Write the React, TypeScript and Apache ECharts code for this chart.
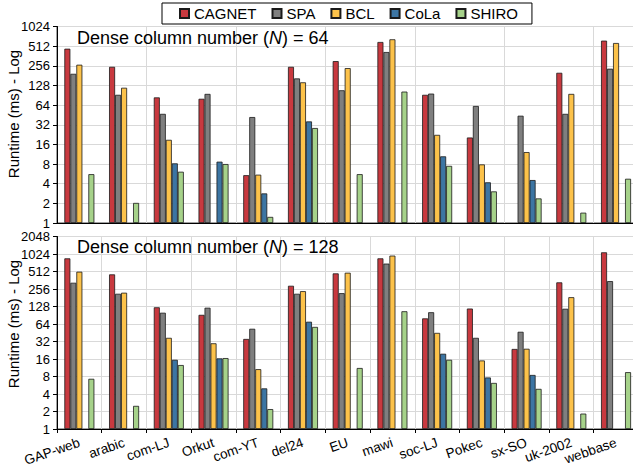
import React, { useEffect, useRef } from "react";
import * as echarts from "echarts";

const categories = ["GAP-web", "arabic", "com-LJ", "Orkut", "com-YT", "del24", "EU", "mawi", "soc-LJ", "Pokec", "sx-SO", "uk-2002", "webbase"];
const seriesNames = ["CAGNET", "SPA", "BCL", "CoLa", "SHIRO"];
const colors = ["#C8393F", "#7F7F7F", "#FCC24A", "#3C75A3", "#A6D28A"];

// N = 64
const cagnet64 = [468, 247, 84, 80, 5.4, 247, 302, 593, 92, 20.4, null, 200, 622];
const spa64 = [193, 92, 47, 95, 42, 164, 108, 416, 96, 62, 44, 47, 231];
const bcl64 = [266, 118, 18.8, null, 5.5, 143, 236, 652, 22.4, 7.9, 12.2, 95, 572];
const cola64 = [null, null, 8.2, 8.7, 2.84, 36, null, null, 10.5, 4.2, 4.55, null, null];
const shiro64 = [5.6, 2.03, 6.1, 8.0, 1.24, 28.5, 5.6, 103, 7.5, 3.05, 2.38, 1.44, 4.76];

// N = 128
const cagnet128 = [862, 457, 124, 92, 35.4, 291, 475, 862, 80, 118, 23.8, 333, 1095];
const spa128 = [328, 212, 100, 122, 53, 212, 217, 700, 102, 37, 47, 117, 350];
const bcl128 = [508, 221, 37, 29.8, 10.7, 235, 488, 961, 45, 15.1, 24, 185, null];
const cola128 = [null, null, 15.5, 16.4, 5.0, 70, null, null, 19.7, 7.7, 8.5, null, null];
const shiro128 = [7.3, 2.5, 12.6, 16.6, 2.2, 57, 11.2, 106, 15.5, 6.2, 4.9, 1.84, 9.5];

const yMaxTop = 1024;
const yMaxBottom = 2048;
const yAxisTitle = "Runtime (ms) - Log";

const FONT = "'Liberation Sans', Arial, sans-serif";

export default function App() {
  const ref = useRef<HTMLDivElement>(null);
  useEffect(() => {
    if (!ref.current) return;
    const chart = echarts.init(ref.current, null, { renderer: "svg" });
    const top = [cagnet64, spa64, bcl64, cola64, shiro64];
    const bottom = [cagnet128, spa128, bcl128, cola128, shiro128];
    const mkSeries = (data: (number | null)[][], idx: number) =>
      data.map((d, i) => ({
        name: seriesNames[i],
        type: "bar",
        xAxisIndex: idx,
        yAxisIndex: idx,
        data: d.map((v) => (v == null ? "-" : v)),
        barWidth: 6,
        barGap: "0%",
        itemStyle: { color: colors[i], borderColor: "#1a1a1a", borderWidth: 0.8 },
      }));
    const xAxisBase = {
      type: "category",
      data: categories,
      axisLine: { lineStyle: { color: "#000", width: 1 } },
      splitLine: { show: true, lineStyle: { color: "#d9d9d9", width: 1 } },
    };
    const yAxisBase = {
      type: "log",
      logBase: 2,
      min: 1,
      interval: 1,
      axisLine: { show: true, lineStyle: { color: "#000", width: 1 } },
      axisTick: { show: true, length: 4, lineStyle: { color: "#000" } },
      axisLabel: { fontFamily: FONT, fontSize: 13, color: "#000", margin: 7, formatter: (v: number) => String(Math.round(v)) },
      splitLine: { show: true, lineStyle: { color: "#d9d9d9", width: 1 } },
    };
    const nameText = (cy: number) => ({
      type: "text",
      x: 13.5,
      y: cy,
      rotation: Math.PI / 2,
      style: { text: yAxisTitle, fontFamily: FONT, fontSize: 15, fill: "#000", align: "center", verticalAlign: "middle" },
      z: 5,
    });
    chart.setOption({
      animation: false,
      backgroundColor: "#fff",
      textStyle: { fontFamily: FONT },
      title: [
        {
          text: "Dense column number ({i|N}) = 64",
          left: 77,
          top: 29,
          padding: 0,
          textStyle: { fontFamily: FONT, fontSize: 18, fontWeight: "normal", color: "#000", rich: { i: { fontFamily: FONT, fontSize: 18, fontStyle: "italic", color: "#000" } } },
        },
        {
          text: "Dense column number ({i|N}) = 128",
          left: 77,
          top: 238,
          padding: 0,
          textStyle: { fontFamily: FONT, fontSize: 18, fontWeight: "normal", color: "#000", rich: { i: { fontFamily: FONT, fontSize: 18, fontStyle: "italic", color: "#000" } } },
        },
      ],
      graphic: [nameText(114), nameText(324)],
      legend: {
        data: seriesNames,
        left: 162,
        top: 3,
        icon: "rect",
        itemWidth: 9,
        itemHeight: 9,
        itemGap: 15,
        padding: [3, 14, 3, 17],
        borderColor: "#000",
        borderWidth: 1,
        backgroundColor: "#fff",
        textStyle: { fontFamily: FONT, fontSize: 15, color: "#000" },
        z: 10,
      },
      grid: [
        { left: 57, top: 26.5, width: 581.4, height: 196.5, show: true, borderColor: "#444", borderWidth: 1, outerBoundsMode: "none", containLabel: false },
        { left: 57, top: 236.5, width: 581.4, height: 192.5, show: true, borderColor: "#444", borderWidth: 1, outerBoundsMode: "none", containLabel: false },
      ],
      xAxis: [
        { ...xAxisBase, gridIndex: 0, axisTick: { show: false }, axisLabel: { show: false } },
        {
          ...xAxisBase,
          gridIndex: 1,
          axisTick: { show: true, length: 4, lineStyle: { color: "#000" } },
          axisLabel: { fontFamily: FONT, fontSize: 13.5, color: "#000", rotate: 19, margin: 13, interval: 0 },
        },
      ],
      yAxis: [
        { ...yAxisBase, gridIndex: 0, max: yMaxTop },
        { ...yAxisBase, gridIndex: 1, max: yMaxBottom },
      ],
      series: [...mkSeries(top, 0), ...mkSeries(bottom, 1)],
    });
    return () => chart.dispose();
  }, []);
  return <div ref={ref} style={{ position: "absolute", left: 0, top: 0, width: 633, height: 472 }} />;
}
